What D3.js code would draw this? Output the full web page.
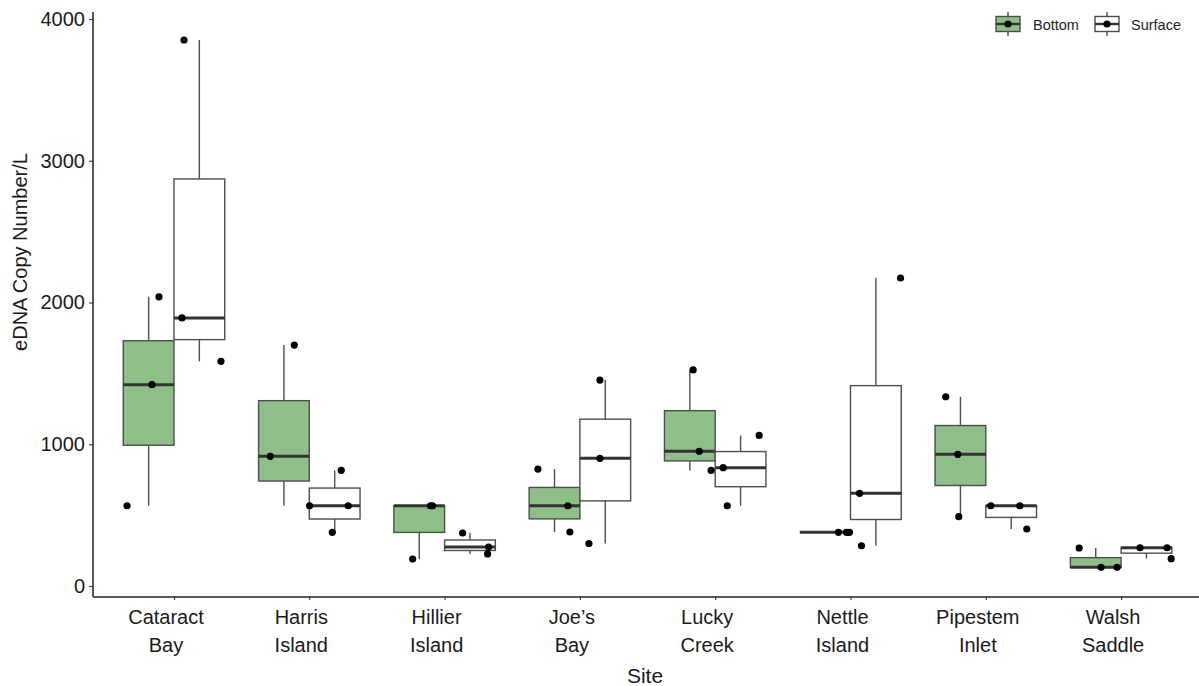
<!DOCTYPE html>
<html>
<head>
<meta charset="utf-8">
<script src="https://cdn.jsdelivr.net/npm/d3@7"></script>
<style>
  html, body { margin: 0; padding: 0; background: #fff; }
  svg { display: block; font-family: "Liberation Sans", Arial, Helvetica, sans-serif; }
</style>
</head>
<body>
<svg id="chart" width="1199" height="686"></svg>
<script>
// Sampling sites along the x axis
const sites = ["Cataract\nBay", "Harris\nIsland", "Hillier\nIsland", "Joe’s\nBay",
               "Lucky\nCreek", "Nettle\nIsland", "Pipestem\nInlet", "Walsh\nSaddle"];

// eDNA copies per litre, three replicate samples per site and depth
const bottomValues = [
  [566, 1420, 2040],
  [566, 915, 1700],
  [190, 566, 566],
  [381, 566, 825],
  [815, 950, 1524],
  [379, 379, 379],
  [489, 929, 1335],
  [132, 132, 268]
];
const surfaceValues = [
  [1585, 1891, 3852],
  [379, 566, 816],
  [226, 275, 374],
  [300, 901, 1453],
  [566, 835, 1062],
  [284, 654, 2173],
  [402, 566, 566],
  [193, 270, 270]
];

// Fixed horizontal jitter of each replicate point around its site (fraction of the site step)
const bottomJitter = [
  [-0.347, -0.163, -0.111],
  [0.002, -0.288, -0.111],
  [-0.236, -0.089, -0.104],
  [-0.074, -0.089, -0.310],
  [-0.030, -0.118, -0.163],
  [-0.089, -0.030, -0.008],
  [-0.200, -0.207, -0.296],
  [-0.030, -0.148, -0.310]
];
const surfaceJitter = [
  [0.347, 0.059, 0.074],
  [0.170, 0.288, 0.236],
  [0.318, 0.325, 0.133],
  [0.067, 0.148, 0.148],
  [0.089, 0.059, 0.325],
  [0.081, 0.067, 0.370],
  [0.303, 0.037, 0.251],
  [0.370, 0.340, 0.140]
];

const yTicks = [0, 1000, 2000, 3000, 4000];
const depths = ["Bottom", "Surface"];
const depthFill = { Bottom: "#8fbf88", Surface: "#ffffff" };

const svg = d3.select("#chart");
const W = 1199, H = 686;

// Panel geometry
const panel = { left: 93, top: 12, bottom: 597 };
const step = 135.3;
const firstCenter = 174;

// Discrete x: category centres with ggplot-style 0.6 step expansion on both sides
const x = d3.scalePoint()
  .domain(sites)
  .range([firstCenter, firstCenter + step * (sites.length - 1)]);

const y = d3.scaleLinear()
  .domain([0, 4000])
  .range([586, 19]);

const boxW = step * 0.375;
const dodge = { Bottom: -boxW / 2, Surface: boxW / 2 };

// Five-number summary with the R type-7 quantile (d3.quantile)
function stats(vals) {
  const s = vals.slice().sort(d3.ascending);
  const q1 = d3.quantile(s, 0.25), med = d3.quantile(s, 0.5), q3 = d3.quantile(s, 0.75);
  const iqr = q3 - q1;
  const lo = d3.min(s.filter(v => v >= q1 - 1.5 * iqr));
  const hi = d3.max(s.filter(v => v <= q3 + 1.5 * iqr));
  return { q1, med, q3, lo, hi };
}

const groups = [];
sites.forEach((site, i) => {
  groups.push({ site, depth: "Bottom", values: bottomValues[i], jitter: bottomJitter[i] });
  groups.push({ site, depth: "Surface", values: surfaceValues[i], jitter: surfaceJitter[i] });
});

const boxStroke = "#4d4d4d";
const g = svg.append("g");

// Boxes, whiskers and medians
groups.forEach(gr => {
  const st = stats(gr.values);
  const cx = x(gr.site) + dodge[gr.depth];
  const bg = g.append("g");
  bg.append("line")
    .attr("x1", cx).attr("x2", cx)
    .attr("y1", y(st.q3)).attr("y2", y(st.hi))
    .attr("stroke", boxStroke).attr("stroke-width", 1.4);
  bg.append("line")
    .attr("x1", cx).attr("x2", cx)
    .attr("y1", y(st.q1)).attr("y2", y(st.lo))
    .attr("stroke", boxStroke).attr("stroke-width", 1.4);
  bg.append("rect")
    .attr("x", cx - boxW / 2).attr("width", boxW)
    .attr("y", y(st.q3)).attr("height", Math.max(0, y(st.q1) - y(st.q3)))
    .attr("fill", depthFill[gr.depth])
    .attr("stroke", boxStroke).attr("stroke-width", 1.4);
  bg.append("line")
    .attr("x1", cx - boxW / 2).attr("x2", cx + boxW / 2)
    .attr("y1", y(st.med)).attr("y2", y(st.med))
    .attr("stroke", "#333333").attr("stroke-width", 3);
});

// Replicate points jittered around each site centre
groups.forEach(gr => {
  gr.values.forEach((v, k) => {
    g.append("circle")
      .attr("cx", x(gr.site) + gr.jitter[k] * step)
      .attr("cy", y(v))
      .attr("r", 3.6)
      .attr("fill", "#000");
  });
});

// Axes
const axisColor = "#222";
const yAxis = svg.append("g")
  .attr("transform", `translate(${panel.left},0)`)
  .call(d3.axisLeft(y).tickValues(yTicks).tickSize(4).tickPadding(4).tickFormat(d3.format("d")));
yAxis.select(".domain").remove();
yAxis.append("line")
  .attr("x1", 0).attr("x2", 0)
  .attr("y1", panel.top).attr("y2", panel.bottom)
  .attr("stroke", axisColor).attr("stroke-width", 1.5);
yAxis.selectAll(".tick line").attr("stroke", "#444").attr("stroke-width", 1.2);
yAxis.selectAll(".tick text")
  .attr("font-size", 20).attr("fill", "#1a1a1a")
  .attr("font-family", "'Liberation Sans', Arial, sans-serif");

const xAxis = svg.append("g")
  .attr("transform", `translate(0,${panel.bottom})`)
  .call(d3.axisBottom(x).tickSize(3).tickFormat(""));
xAxis.select(".domain").remove();
xAxis.append("line")
  .attr("x1", panel.left).attr("x2", W)
  .attr("y1", 0).attr("y2", 0)
  .attr("stroke", axisColor).attr("stroke-width", 1.5);
xAxis.selectAll(".tick line").attr("stroke", "#444").attr("stroke-width", 1.2);

// Two-line site labels
sites.forEach(site => {
  const lines = site.split("\n");
  const t = svg.append("text")
    .attr("x", x(site))
    .attr("text-anchor", "middle")
    .attr("font-size", 20)
    .attr("fill", "#1a1a1a");
  lines.forEach((ln, li) => {
    t.append("tspan")
      .attr("x", x(site) - 8)
      .attr("y", 624 + li * 28)
      .text(ln);
  });
});

// Axis titles
svg.append("text")
  .attr("x", 645).attr("y", 683)
  .attr("text-anchor", "middle")
  .attr("font-size", 21)
  .attr("fill", "#1a1a1a")
  .text("Site");

svg.append("text")
  .attr("transform", "translate(27,252) rotate(-90)")
  .attr("text-anchor", "middle")
  .attr("font-size", 20)
  .attr("fill", "#1a1a1a")
  .text("eDNA Copy Number/L");

// Legend
const legend = svg.append("g");
const legendItems = [
  { depth: "Bottom", kx: 1008, tx: 1033 },
  { depth: "Surface", kx: 1107, tx: 1131 }
];
legendItems.forEach(it => {
  const lg = legend.append("g");
  lg.append("line")
    .attr("x1", it.kx).attr("x2", it.kx)
    .attr("y1", 12).attr("y2", 36)
    .attr("stroke", boxStroke).attr("stroke-width", 1.4);
  lg.append("rect")
    .attr("x", it.kx - 12).attr("y", 16.5)
    .attr("width", 24).attr("height", 15)
    .attr("fill", depthFill[it.depth])
    .attr("stroke", boxStroke).attr("stroke-width", 1.4);
  lg.append("line")
    .attr("x1", it.kx - 12).attr("x2", it.kx + 12)
    .attr("y1", 24).attr("y2", 24)
    .attr("stroke", "#333").attr("stroke-width", 2.4);
  lg.append("circle")
    .attr("cx", it.kx).attr("cy", 24).attr("r", 3.6).attr("fill", "#000");
  lg.append("text")
    .attr("x", it.tx).attr("y", 29.5)
    .attr("font-size", 14.5)
    .attr("fill", "#222")
    .text(it.depth);
});
</script>
</body>
</html>
